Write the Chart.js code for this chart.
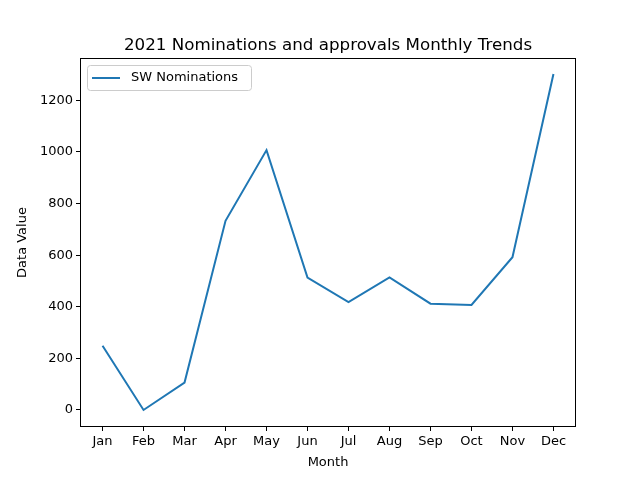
<!DOCTYPE html>
<html>
<head>
<meta charset="utf-8">
<script src="https://cdn.jsdelivr.net/npm/chart.js@4"></script>
<style>
  html, body { margin: 0; padding: 0; background: #fff; }
  #wrap { width: 640px; height: 480px; }
</style>
</head>
<body>
<div id="wrap"><canvas id="trendChart" width="640" height="480"></canvas></div>
<script>
const months = ['Jan', 'Feb', 'Mar', 'Apr', 'May', 'Jun', 'Jul', 'Aug', 'Sep', 'Oct', 'Nov', 'Dec'];
const swNominations = [249, 0, 106, 733, 1007, 513, 418, 514, 412, 407, 592, 1302];
const yTicks = [0, 200, 400, 600, 800, 1000, 1200];
const chartTitle = '2021 Nominations and approvals Monthly Trends';

const FONT = 'DejaVu Sans';
const BLUE = '#1f77b4';

// frame around the plot + title + boxed legend, drawn the matplotlib way
const framePlugin = {
    id: 'frame',
    afterDraw(chart) {
        const ctx = chart.ctx;
        const a = chart.chartArea;
        ctx.save();
        ctx.strokeStyle = '#000';
        ctx.lineWidth = 1;
        ctx.strokeRect(Math.round(a.left) + 0.5, Math.round(a.top) + 0.5,
            Math.round(a.right - a.left) - 1, Math.round(a.bottom - a.top) - 1);

        ctx.fillStyle = '#000';
        ctx.font = '16.7px "' + FONT + '"';
        ctx.textAlign = 'center';
        ctx.textBaseline = 'alphabetic';
        ctx.fillText(chartTitle, (a.left + a.right) / 2, 50);

        // legend
        const bx = a.left + 7, by = a.top + 7, bw = 164, bh = 25;
        ctx.fillStyle = 'rgba(255,255,255,0.8)';
        ctx.strokeStyle = '#cccccc';
        ctx.beginPath();
        ctx.roundRect(bx + 0.5, by + 0.5, bw, bh, 3);
        ctx.fill();
        ctx.stroke();
        ctx.strokeStyle = BLUE;
        ctx.lineWidth = 2;
        ctx.beginPath();
        ctx.moveTo(bx + 5, by + 13);
        ctx.lineTo(bx + 33, by + 13);
        ctx.stroke();
        ctx.fillStyle = '#000';
        ctx.font = '13px "' + FONT + '"';
        ctx.textAlign = 'left';
        ctx.textBaseline = 'middle';
        ctx.fillText(chart.data.datasets[0].label, bx + 44, by + 13);
        ctx.restore();
    }
};

const config = {
    type: 'line',
    data: {
        datasets: [{
            label: 'SW Nominations',
            data: swNominations.map((v, i) => ({ x: i, y: v })),
            borderColor: BLUE,
            borderWidth: 2,
            pointRadius: 0,
            tension: 0,
            fill: false
        }]
    },
    options: {
        responsive: false,
        animation: false,
        layout: { padding: { top: 58, right: 64, left: 0, bottom: 0 } },
        plugins: {
            legend: { display: false },
            title: { display: false },
            tooltip: { enabled: false }
        },
        scales: {
            x: {
                type: 'linear',
                min: -0.55,
                max: 11.55,
                afterBuildTicks: axis => { axis.ticks = months.map((m, i) => ({ value: i })); },
                afterFit: axis => { axis.height = 53; },
                ticks: {
                    autoSkip: false,
                    maxRotation: 0,
                    padding: 3,
                    color: '#000',
                    font: { family: FONT, size: 13 },
                    callback: v => months[v]
                },
                grid: { drawOnChartArea: false, drawTicks: true, tickLength: 4, color: '#000' },
                border: { display: false },
                title: {
                    display: true,
                    text: 'Month',
                    color: '#000',
                    font: { family: FONT, size: 13 },
                    padding: { top: 2, bottom: 10 }
                }
            },
            y: {
                type: 'linear',
                min: -66,
                max: 1364,
                afterBuildTicks: axis => { axis.ticks = yTicks.map(v => ({ value: v })); },
                afterFit: axis => { axis.width = 80; },
                ticks: {
                    padding: 3,
                    color: '#000',
                    font: { family: FONT, size: 13 },
                    callback: v => String(v)
                },
                grid: { drawOnChartArea: false, drawTicks: true, tickLength: 4, color: '#000' },
                border: { display: false },
                title: {
                    display: true,
                    text: 'Data Value',
                    color: '#000',
                    font: { family: FONT, size: 13 },
                    padding: { top: 15, bottom: 4 }
                }
            }
        }
    },
    plugins: [framePlugin]
};

new Chart(document.getElementById('trendChart').getContext('2d'), config);
</script>
</body>
</html>
